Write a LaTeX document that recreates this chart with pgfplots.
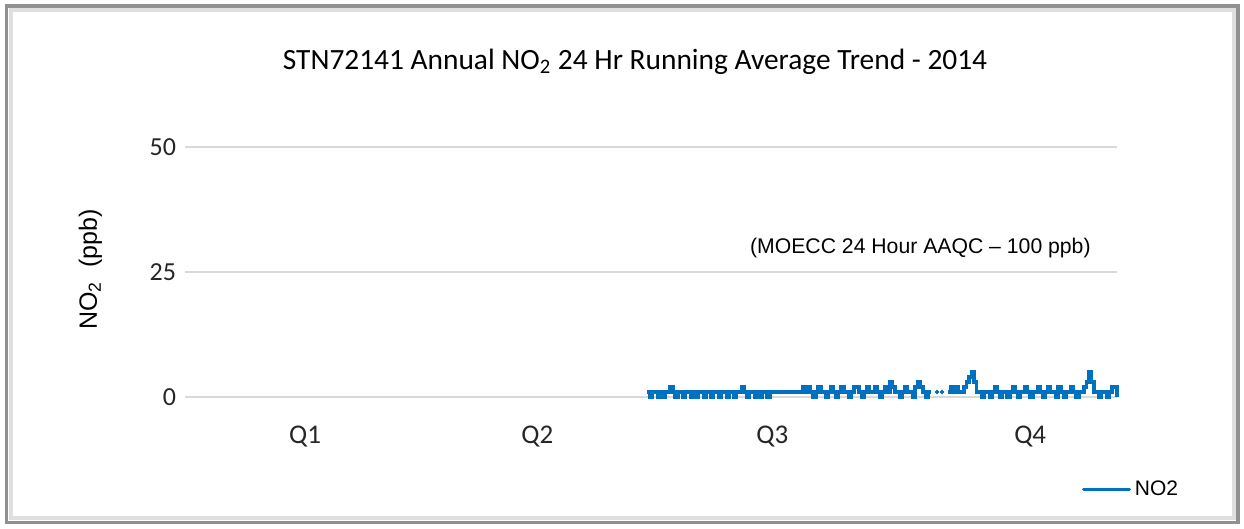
\documentclass[border=0pt]{standalone}
\usepackage{pgfplots}
\pgfplotsset{compat=1.18}
\usepackage{fontspec}
\setmainfont{Carlito}
\newfontfamily\arial{Liberation Sans}
\definecolor{xlblue}{HTML}{0070C0}
\definecolor{gridg}{HTML}{D9D9D9}
\definecolor{txtg}{HTML}{262626}
\pgfplotstableread{
day val
181 1
182 0
183 1
184 1
185 0
186 1
187 0
188 1
189 1
190 2
191 1
192 0
193 1
194 1
195 0
196 1
197 1
198 0
199 1
200 0
201 1
202 1
203 0
204 1
205 1
206 0
207 1
208 1
209 0
210 1
211 1
212 0
213 1
214 1
215 0
216 1
217 1
218 2
219 1
220 0
221 1
222 1
223 0
224 1
225 0
226 1
227 1
228 0
229 1
230 1
231 1
232 1
233 1
234 1
235 1
236 1
237 1
238 1
239 1
240 1
241 1
242 2
243 1
244 2
245 1
246 0
247 1
248 2
249 1
250 1
251 0
252 1
253 2
254 1
255 0
256 1
257 2
258 1
259 1
260 0
261 1
262 2
263 2
264 1
265 0
266 1
267 2
268 1
269 1
270 2
271 1
272 0
273 1
274 2
275 1
276 3
277 2
278 1
279 1
280 0
281 1
282 2
283 1
284 1
285 0
286 2
287 3
288 2
289 1
290 0
291 1
292 1
293 nan
299 1
300 2
301 1
302 2
303 1
304 1
305 2
306 3
307 4
308 5
309 3
310 1
311 1
312 0
313 1
314 1
315 0
316 1
317 2
318 1
319 0
320 1
321 1
322 0
323 1
324 2
325 1
326 0
327 1
328 1
329 2
330 1
331 0
332 1
333 1
334 2
335 1
336 0
337 1
338 2
339 1
340 1
341 0
342 2
343 1
344 0
345 1
346 1
347 2
348 1
349 0
350 1
351 1
352 2
353 3
354 5
355 3
356 1
357 1
358 0
359 1
360 1
361 0
362 1
363 2
364 2
365 0
}\notwo
\pgfplotstableread{
day val
294.5 1
296.5 1
}\dots
\begin{document}
\begin{tikzpicture}
% page size: 1244x529 px at 0.5pt/px
\fill[white] (0,0) rectangle (622pt,264.5pt);
\draw[gray!25, line width=2pt] (5.5pt,5.5pt) rectangle (617pt,259.5pt);
\draw[gray!75!black!70, line width=1.6pt] (3.3pt,3.3pt) rectangle (619pt,261.5pt);
\node[font=\fontsize{14.7}{16}\selectfont] at (317.5pt,233.5pt) {STN72141 Annual NO\textsubscript{2} 24 Hr Running Average Trend - 2014};
\begin{axis}[
  at={(92.5pt,66pt)}, anchor=south west,
  scale only axis, width=466pt, height=125pt,
  xmin=0, xmax=365, ymin=0, ymax=50,
  axis x line*=bottom, axis y line*=left,
  x axis line style={draw=gridg, line width=0.8pt, -},
  y axis line style={draw=none},
  xtick={47,138,230,331}, xticklabels={Q1,Q2,Q3,Q4},
  major tick length=0pt,
  xticklabel style={font=\fontsize{13.5}{15}\selectfont, yshift=-11pt, text=txtg},
  ytick={0,25,50},
  ymajorgrids, grid style={gridg, line width=0.6pt},
  yticklabel style={font=\fontsize{13}{14}\selectfont, xshift=-1pt, text=txtg},
  yticklabels={0,25,50},
  /pgf/number format/assume math mode=true,
  clip=false,
  legend style={at={(0.962,-0.372)}, anchor=west, draw=none, fill=none,
    font=\arial\fontsize{10.5}{12}\selectfont, inner sep=0pt},
  legend cell align=left,
  legend image code/.code={\draw[xlblue, line width=1.5pt, line cap=round] (0pt,0pt) -- (23pt,0pt);},
]
\addplot[xlblue, line width=1.8pt, const plot, unbounded coords=jump] table[x=day,y=val] {\notwo};
\addlegendentry{NO2}
\addplot[xlblue, only marks, mark=*, mark size=0.9pt, forget plot] table[x=day,y=val] {\dots};
\node[font=\arial\fontsize{10.6}{12}\selectfont] at (axis cs:288,29.8) {(MOECC 24 Hour AAQC – 100 ppb)};
\node[font=\arial\fontsize{12.5}{14}\selectfont, rotate=90] at (axis cs:-37,25.5) {NO\textsubscript{2}\ \ (ppb)};
\end{axis}
\end{tikzpicture}
\end{document}
